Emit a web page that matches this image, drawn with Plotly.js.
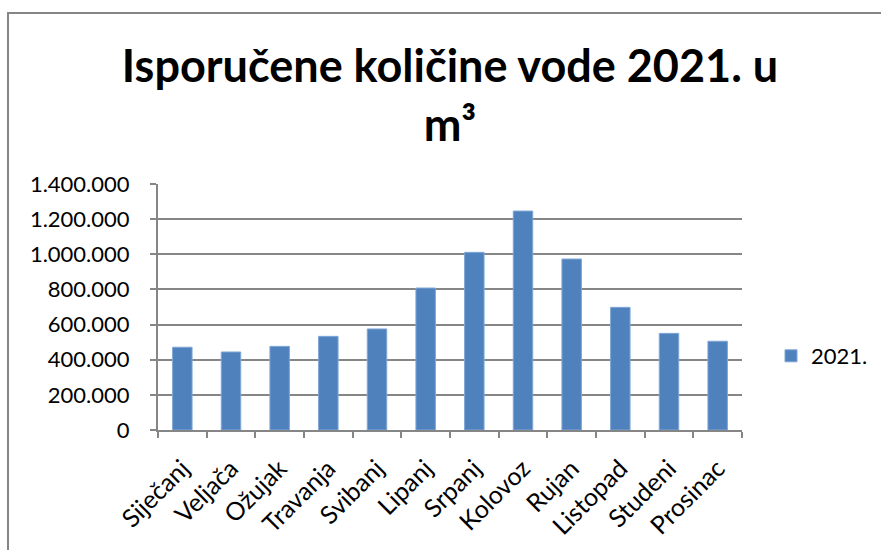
<!DOCTYPE html>
<html>
<head>
<meta charset="utf-8">
<script src="https://cdn.plot.ly/plotly-3.0.1.min.js"></script>
<style>html,body{margin:0;padding:0;background:#fff;}#chart{width:881px;height:550px;}</style>
</head>
<body>
<div id="chart"></div>
<script>
const months = ["Siječanj","Veljača","Ožujak","Travanja","Svibanj","Lipanj","Srpanj","Kolovoz","Rujan","Listopad","Studeni","Prosinac"];
const values2021 = [471000, 444000, 476000, 533000, 575000, 808000, 1011000, 1246000, 973000, 698000, 550000, 505000];
const yTicks = [0, 200000, 400000, 600000, 800000, 1000000, 1200000, 1400000];
const seriesName = "2021.";
const chartTitle = "Isporučene količine vode 2021. u<br>m³";

const FONT = "Lato, 'Open Sans', sans-serif";
const data = [{
  type: "bar",
  x: months,
  y: values2021,
  name: seriesName,
  marker: {color: "#4F81BD", line: {color: "#7FA6D6", width: 1}},
  hoverinfo: "x+y"
}];
const layout = {
  width: 881, height: 550,
  margin: {l: 158, r: 139, t: 184, b: 120, pad: 0, autoexpand: false},
  paper_bgcolor: "#fff", plot_bgcolor: "#fff",
  separators: ",.",
  font: {family: FONT, color: "#000", size: 22},
  title: {text: chartTitle, font: {family: FONT, size: 45, color: "#000", weight: "bold"},
          x: 0.5, xanchor: "center", xref: "paper", y: 1 - 82/550, yanchor: "top", yref: "container"},
  bargap: 0.6,
  showlegend: true,
  legend: {xref: "container", x: 771/881, xanchor: "left", yref: "container", y: 1 - 356/550, yanchor: "middle",
           font: {size: 22, family: FONT}, itemwidth: 30, bgcolor: "rgba(0,0,0,0)"},
  xaxis: {type: "category", tickangle: -45, showgrid: false, showline: true, linecolor: "#868686", linewidth: 2,
          ticks: "outside", tickson: "boundaries", ticklen: 6, tickcolor: "#868686", tickwidth: 2,
          tickfont: {size: 25, family: FONT}, ticklabelstandoff: 12, fixedrange: true},
  yaxis: {range: [0, 1400000], tickvals: yTicks, tickformat: ",d", showgrid: true, gridcolor: "#868686", gridwidth: 2,
          showline: true, linecolor: "#868686", linewidth: 2, ticks: "outside", ticklen: 6, tickcolor: "#868686", tickwidth: 2,
          zeroline: false, tickfont: {size: 22, family: FONT}, ticklabelstandoff: 16, fixedrange: true},
  shapes: [{type: "rect", xref: "paper", yref: "paper", x0: -150/584, x1: 2, y0: -2, y1: 1 + 171/246,
            line: {color: "#868686", width: 2}, fillcolor: "rgba(0,0,0,0)"}]
};
Plotly.newPlot("chart", data, layout, {displayModeBar: false, staticPlot: true});
</script>
</body>
</html>
